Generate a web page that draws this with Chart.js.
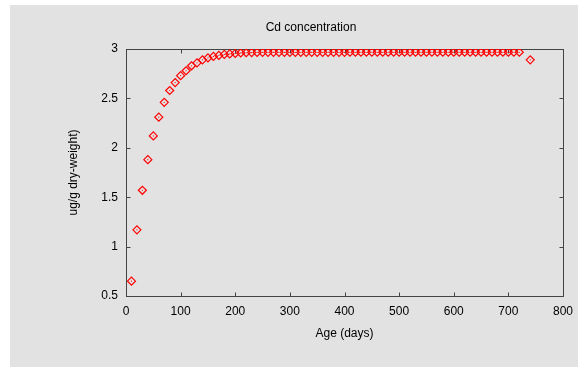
<!DOCTYPE html>
<html>
<head>
<meta charset="utf-8">
<script src="https://cdn.jsdelivr.net/npm/chart.js@4"></script>
<style>
  html, body { margin: 0; padding: 0; background: #fff; }
  #wrap { width: 578px; height: 367px; }
</style>
</head>
<body>
<div id="wrap"><canvas id="cdChart" width="578" height="367"></canvas></div>
<script>
// Cd concentration vs age
const ageDays = [10, 20, 30, 40, 50, 60, 70, 80, 90, 100,
  110, 120, 130, 140, 150, 160, 170, 180, 190, 200,
  210, 220, 230, 240, 250, 260, 270, 280, 290, 300,
  310, 320, 330, 340, 350, 360, 370, 380, 390, 400,
  410, 420, 430, 440, 450, 460, 470, 480, 490, 500,
  510, 520, 530, 540, 550, 560, 570, 580, 590, 600,
  610, 620, 630, 640, 650, 660, 670, 680, 690, 700,
  710, 720, 740];
const cdConc = [0.65, 1.17, 1.57, 1.88, 2.12, 2.31, 2.46, 2.58, 2.66, 2.73,
  2.78, 2.83, 2.86, 2.89, 2.91, 2.925, 2.935, 2.945, 2.95, 2.955,
  2.96, 2.962, 2.964, 2.965, 2.966, 2.966, 2.966, 2.966, 2.966, 2.966,
  2.966, 2.966, 2.966, 2.966, 2.966, 2.966, 2.966, 2.966, 2.966, 2.966,
  2.967, 2.967, 2.967, 2.967, 2.967, 2.967, 2.967, 2.967, 2.967, 2.967,
  2.967, 2.967, 2.967, 2.967, 2.967, 2.967, 2.967, 2.967, 2.967, 2.967,
  2.967, 2.967, 2.967, 2.967, 2.967, 2.967, 2.967, 2.967, 2.967, 2.967,
  2.967, 2.967, 2.89];
const xTicks = [0, 100, 200, 300, 400, 500, 600, 700, 800];
const yTicks = [0.5, 1, 1.5, 2, 2.5, 3];

const points = ageDays.map((d, i) => ({ x: d, y: cdConc[i] }));
const FONT = { family: "'Liberation Sans', Arial, sans-serif", size: 12 };

// no extra label padding, so the plot box lands where layout puts it
function noPad(s) {
  s.paddingLeft = 0; s.paddingRight = 0;
  s.paddingTop = 0; s.paddingBottom = 0;
}

// gray panel behind everything, gnuplot-like frame with inward ticks
const framePlugin = {
  id: "frame",
  beforeDraw(chart) {
    const ctx = chart.ctx;
    ctx.save();
    ctx.fillStyle = "#fff";
    ctx.fillRect(0, 0, chart.width, chart.height);
    ctx.fillStyle = "#e2e2e2";
    ctx.fillRect(10, 5, chart.width - 10, chart.height - 5);
    ctx.restore();
  },
  beforeDatasetsDraw(chart) {
    const { ctx, chartArea: a, scales } = chart;
    const L = Math.round(a.left) + 0.5, R = Math.round(a.right) + 0.5;
    const T = Math.round(a.top) + 0.5, B = Math.round(a.bottom) + 0.5;
    ctx.save();
    ctx.strokeStyle = "#444";
    ctx.lineWidth = 1;
    ctx.strokeRect(L, T, R - L, B - T);
    ctx.beginPath();
    xTicks.forEach(v => {
      const px = Math.round(scales.x.getPixelForValue(v)) + 0.5;
      ctx.moveTo(px, B); ctx.lineTo(px, B - 4);
      ctx.moveTo(px, T); ctx.lineTo(px, T + 4);
    });
    yTicks.forEach(v => {
      const py = Math.round(scales.y.getPixelForValue(v)) + 0.5;
      ctx.moveTo(L, py); ctx.lineTo(L + 4, py);
      ctx.moveTo(R, py); ctx.lineTo(R - 4, py);
    });
    ctx.stroke();
    ctx.restore();
  }
};

new Chart(document.getElementById("cdChart"), {
  type: "scatter",
  data: {
    datasets: [{
      label: "Cd",
      data: points,
      pointStyle: "rectRot",
      pointRadius: 4,
      pointHoverRadius: 4,
      borderColor: "#ff0000",
      backgroundColor: "rgba(0,0,0,0)",
      pointBorderWidth: 1.2
    }, {
      label: "Cd dot",
      data: points,
      pointStyle: "circle",
      pointRadius: 0.6,
      borderWidth: 0,
      backgroundColor: "#ff0000"
    }]
  },
  options: {
    responsive: false,
    animation: false,
    layout: { padding: { left: 59, right: 15, top: 0, bottom: 0 } },
    plugins: {
      legend: { display: false },
      tooltip: { enabled: false },
      title: {
        display: true,
        text: "Cd concentration",
        color: "#000",
        font: { ...FONT, weight: "normal" },
        padding: { top: 20.8, bottom: 13.8 }
      }
    },
    scales: {
      x: {
        type: "linear",
        min: 0, max: 800,
        afterBuildTicks: s => { s.ticks = xTicks.map(v => ({ value: v })); },
        afterFit: s => { s.height = 71; noPad(s); },
        grid: { display: false, drawTicks: false },
        border: { display: false },
        ticks: { color: "#000", font: FONT, padding: 8, maxRotation: 0, callback: v => String(v) },
        title: { display: true, text: "Age (days)", color: "#000", font: FONT, padding: { top: 0, bottom: 26 } }
      },
      y: {
        type: "linear",
        min: 0.5, max: 3,
        afterBuildTicks: s => { s.ticks = yTicks.map(v => ({ value: v })); },
        afterFit: s => { s.width = 67; noPad(s); },
        grid: { display: false, drawTicks: false },
        border: { display: false },
        ticks: { color: "#000", font: FONT, padding: 8, callback: v => String(v) },
        title: { display: true, text: "ug/g dry-weight)", color: "#000", font: FONT, padding: { top: 7, bottom: 0 } }
      }
    }
  },
  plugins: [framePlugin]
});
</script>
</body>
</html>
